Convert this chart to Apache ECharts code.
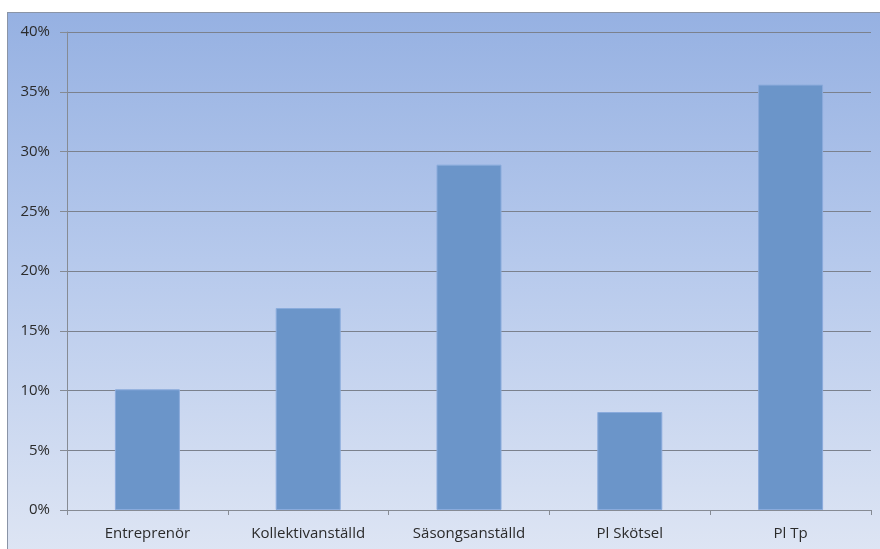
<!DOCTYPE html>
<html>
<head>
<meta charset="utf-8">
<script src="https://cdn.jsdelivr.net/npm/echarts@6/dist/echarts.min.js"></script>
<style>
  html, body { margin: 0; padding: 0; background: #ffffff; }
  #frame {
    position: absolute; left: 7px; top: 12px; width: 880px; height: 549px;
    border-left: 1px solid #8a94a6; border-top: 1px solid #8a94a6;
    background: linear-gradient(to bottom, #96b1e2 0%, #b6c9ec 45%, #dfe6f4 100%);
  }
  #chart { position: absolute; left: 0; top: 0; width: 880px; height: 549px; }
</style>
</head>
<body>
<div id="frame"></div>
<div id="chart"></div>
<script>
// Share of staff per employment category (percent)
const categories = ['Entreprenör', 'Kollektivanställd', 'Säsongsanställd', 'Pl Skötsel', 'Pl Tp'];
const shares = [10.1, 16.9, 28.9, 8.2, 35.6];
const yTicks = { min: 0, max: 40, step: 5 };

const chart = echarts.init(document.getElementById('chart'), null, { renderer: 'canvas' });
const axisGrey = '#868b94';
const labelFont = { fontFamily: 'Open Sans, Liberation Sans, Arial, sans-serif', fontSize: 15, color: '#2b2b2b' };

chart.setOption({
  backgroundColor: 'transparent',
  animation: false,
  grid: { left: 67, right: 9, top: 32, bottom: 39, containLabel: false },
  xAxis: {
    type: 'category',
    data: categories,
    boundaryGap: true,
    axisLine: { show: true, lineStyle: { color: axisGrey, width: 1 } },
    axisTick: { show: true, alignWithLabel: false, length: 5, lineStyle: { color: axisGrey } },
    axisLabel: Object.assign({ margin: 16, interval: 0 }, labelFont),
    splitLine: { show: false }
  },
  yAxis: {
    type: 'value',
    min: yTicks.min,
    max: yTicks.max,
    interval: yTicks.step,
    axisLine: { show: true, lineStyle: { color: axisGrey, width: 1 } },
    axisTick: { show: true, length: 7, lineStyle: { color: axisGrey } },
    axisLabel: Object.assign({ margin: 17, formatter: '{value}%' }, labelFont),
    splitLine: { show: true, lineStyle: { color: '#7b818d', width: 1 } }
  },
  series: [{
    type: 'bar',
    data: shares,
    barWidth: 65,
    itemStyle: { color: '#6b95c9', borderColor: '#8aabdc', borderWidth: 1 }
  }]
});
</script>
</body>
</html>
